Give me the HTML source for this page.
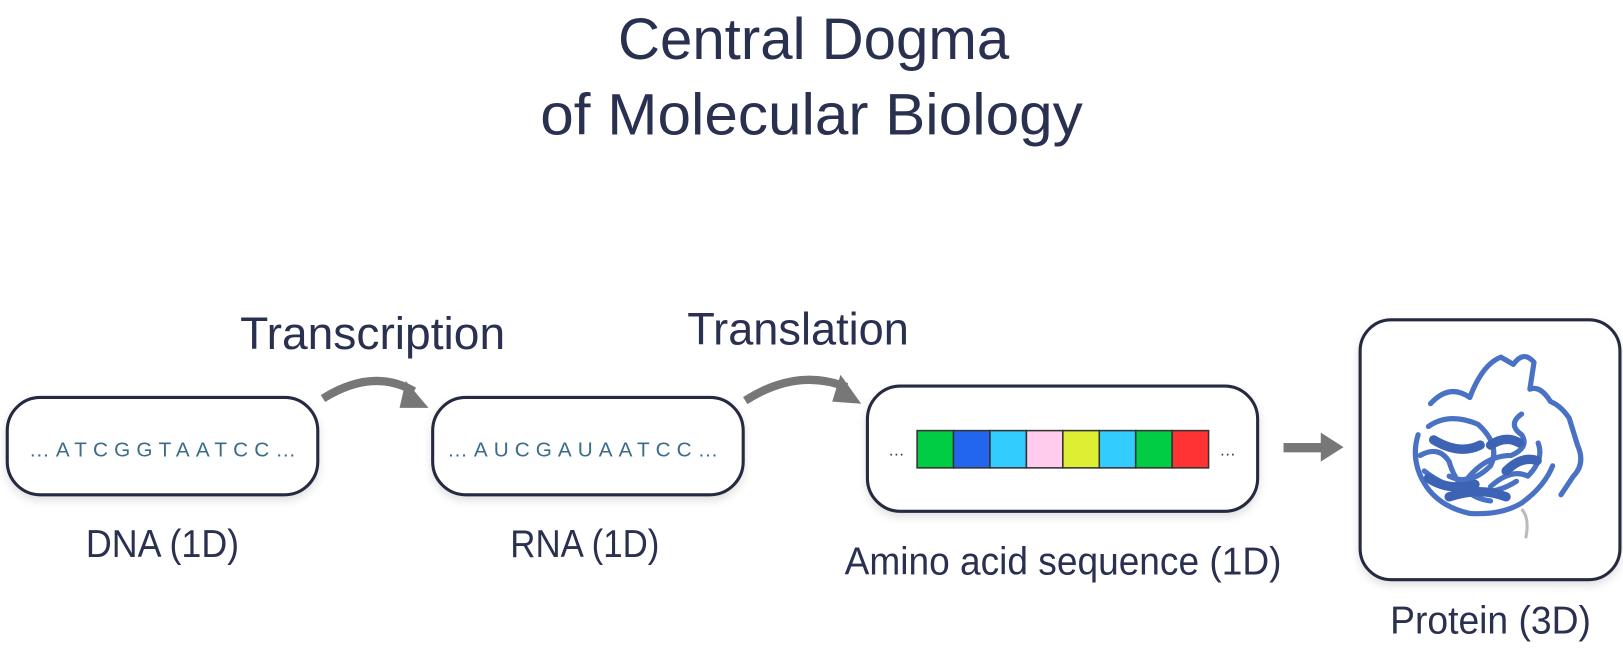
<!DOCTYPE html>
<html><head><meta charset="utf-8"><style>
html,body{margin:0;padding:0;background:#fff;}
svg{display:block;}
text{font-family:"Liberation Sans",sans-serif;fill:#2a3150;}
</style></head><body>
<svg width="1623" height="648" viewBox="0 0 1623 648">
<defs>
<filter id="sh" x="-10%" y="-10%" width="120%" height="130%"><feDropShadow dx="0" dy="4" stdDeviation="4" flood-color="#000" flood-opacity="0.12"/></filter>
</defs>
<g transform="scale(1.0351)">
<text x="786" y="57" font-size="56" text-anchor="middle" textLength="378" lengthAdjust="spacingAndGlyphs">Central Dogma</text>
<text x="784" y="130" font-size="56" text-anchor="middle" textLength="524" lengthAdjust="spacingAndGlyphs">of Molecular Biology</text>

<text x="232" y="337" font-size="44" textLength="256" lengthAdjust="spacingAndGlyphs">Transcription</text>
<text x="664" y="333" font-size="44" textLength="214" lengthAdjust="spacingAndGlyphs">Translation</text>

<g>
<rect x="7" y="384" width="300" height="94" rx="32" fill="#fff" stroke="#262b40" stroke-width="3" filter="url(#sh)"/>
<text x="157" y="441" font-size="20" text-anchor="middle" style="fill:#3b6d8a" textLength="258" lengthAdjust="spacing">…ATCGGTAATCC…</text>
</g>
<text x="157" y="538" font-size="38" text-anchor="middle" textLength="148" lengthAdjust="spacingAndGlyphs">DNA (1D)</text>

<g>
<rect x="418" y="384" width="300" height="94" rx="32" fill="#fff" stroke="#262b40" stroke-width="3" filter="url(#sh)"/>
<text x="563" y="441" font-size="20" text-anchor="middle" style="fill:#3b6d8a" textLength="262" lengthAdjust="spacing">…AUCGAUAATCC…</text>
</g>
<text x="565" y="538" font-size="38" text-anchor="middle" textLength="144" lengthAdjust="spacingAndGlyphs">RNA (1D)</text>

<g>
<path d="M312 385 Q360 355 400 378" fill="none" stroke="#777" stroke-width="8"/>
<polygon points="392,368 414,394 386,394" fill="#777"/>
</g>
<g>
<path d="M720 387 Q770 355 818 374" fill="none" stroke="#777" stroke-width="8"/>
<polygon points="812,362 832,390 804,388" fill="#777"/>
</g>

<g>
<rect x="838" y="373" width="377" height="121" rx="32" fill="#fff" stroke="#262b40" stroke-width="3" filter="url(#sh)"/>
<text x="866" y="440" font-size="16" text-anchor="middle" style="fill:#333">…</text>
<text x="1186" y="440" font-size="16" text-anchor="middle" style="fill:#333">…</text>
<g id="aa"></g>
</g>
<text x="1027" y="555" font-size="38" text-anchor="middle" textLength="422" lengthAdjust="spacingAndGlyphs">Amino acid sequence (1D)</text>

<g>
<rect x="1240" y="428" width="38" height="9" fill="#777"/>
<polygon points="1276,418 1298,432 1276,446" fill="#777"/>
</g>

<g>
<rect x="1314" y="309" width="251" height="251" rx="30" fill="#fff" stroke="#262b40" stroke-width="3" filter="url(#sh)"/>
<g fill="none" stroke="#4a72c4" stroke-width="5" stroke-linejoin="round" stroke-linecap="round">
<path d="M1382 390 Q1400 370 1420 384 Q1432 352 1450 345 L1462 352 Q1472 338 1482 350 L1478 376 Q1488 372 1498 388 Q1508 392 1516 404 L1524 430 Q1532 448 1520 460 L1508 478"/>
<path d="M1370 420 Q1362 446 1378 470 Q1392 490 1420 496 Q1450 498 1470 486 Q1492 470 1500 450"/>
<path d="M1380 412 Q1400 398 1428 410 Q1450 430 1440 450 Q1420 470 1400 460"/>
<path d="M1412 470 Q1432 440 1460 440 Q1478 432 1470 420 Q1456 410 1470 400"/>
<path d="M1440 470 Q1460 452 1476 460 Q1492 444 1486 428"/>
<path d="M1372 440 Q1390 430 1400 446 Q1410 480 1440 484"/>
<path d="M1376 455 Q1395 470 1420 475 Q1445 478 1465 465"/>
</g>
<g fill="none" stroke="#3d63b5" stroke-width="9" stroke-linecap="round">
<path d="M1385 425 Q1410 440 1430 430"/>
<path d="M1400 480 Q1430 470 1455 480"/>
<path d="M1455 455 Q1470 440 1485 445"/>
<path d="M1440 430 Q1455 420 1468 428"/>
<path d="M1380 462 Q1400 475 1425 468"/>
</g>
<path d="M1470 492 Q1478 500 1474 520" fill="none" stroke="#bbb" stroke-width="3"/>
</g>
<text x="1440" y="612" font-size="38" text-anchor="middle" textLength="194" lengthAdjust="spacingAndGlyphs">Protein (3D)</text>
</g>
</svg>
<script>
const aminoColors = ["#00cc44","#2266ee","#33ccff","#ffccee","#ddee33","#33ccff","#00cc44","#ff3333"];
const g = document.getElementById('aa');
const x0 = 886, w = 35.2;
aminoColors.forEach((c,i)=>{
  const r = document.createElementNS('http://www.w3.org/2000/svg','rect');
  r.setAttribute('x', x0 + i*w); r.setAttribute('y', 416);
  r.setAttribute('width', w); r.setAttribute('height', 36);
  r.setAttribute('fill', c); r.setAttribute('stroke', '#333'); r.setAttribute('stroke-width','1.5');
  
  
  g.appendChild(r);
});
</script>
</body></html>
